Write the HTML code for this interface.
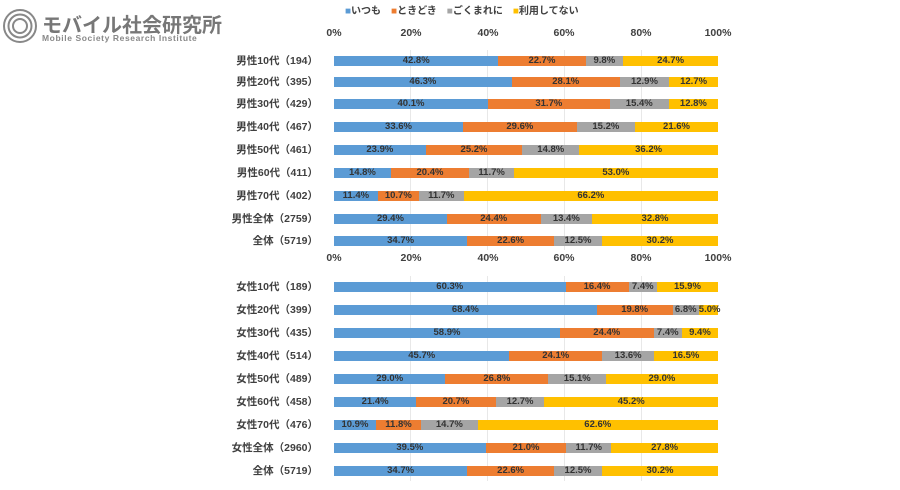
<!DOCTYPE html><html><head><meta charset="utf-8"><style>
body{margin:0;width:900px;height:490px;background:#fff;position:relative;font-family:"Liberation Sans","Noto Sans CJK JP",sans-serif;color:#404040;overflow:hidden}
.a{position:absolute}
.bar{position:absolute;left:334px;width:384px;height:10px;display:flex}
.bar div{height:10px;font-size:9.5px;line-height:10px;text-align:center;white-space:nowrap;color:#333;font-weight:bold}
.b{background:#5b9bd5}.o{background:#ed7d31}.g{background:#a5a5a5}.y{background:#ffc000}
.lab{position:absolute;right:582px;font-size:10.5px;line-height:12px;font-weight:bold;color:#404040;white-space:nowrap}
.tk{position:absolute;font-size:10.5px;font-weight:bold;width:40px;margin-left:-20px;text-align:center}
.grid{position:absolute;width:1px;background:#e8e8e8}
</style></head><body>
<svg class="a" style="left:2px;top:8px" width="36" height="36"><g fill="none" stroke="#888" stroke-width="2"><circle cx="18" cy="18" r="16"/><circle cx="18" cy="18" r="11.5"/><circle cx="18" cy="18" r="7"/></g></svg>
<div class="a" style="left:42px;top:9px;font-size:20px;font-weight:bold;color:#777">モバイル社会研究所</div>
<div class="a" style="left:42px;top:33px;font-size:8.5px;font-weight:bold;color:#888;letter-spacing:0.6px">Mobile Society Research Institute</div>
<div class="a" style="left:345px;top:2px;font-size:10px;font-weight:bold;white-space:nowrap"><span style="color:#5b9bd5">■</span>いつも　<span style="color:#ed7d31">■</span>ときどき　<span style="color:#a5a5a5">■</span>ごくまれに　<span style="color:#ffc000">■</span>利用してない</div>

<div class="grid" style="left:410px;top:50px;height:200px"></div><div class="grid" style="left:487px;top:50px;height:200px"></div><div class="grid" style="left:564px;top:50px;height:200px"></div><div class="grid" style="left:641px;top:50px;height:200px"></div>
<div class="grid" style="left:410px;top:276px;height:205px"></div><div class="grid" style="left:487px;top:276px;height:205px"></div><div class="grid" style="left:564px;top:276px;height:205px"></div><div class="grid" style="left:641px;top:276px;height:205px"></div>

<div class="tk" style="left:334px;top:27px">0%</div><div class="tk" style="left:411px;top:27px">20%</div><div class="tk" style="left:488px;top:27px">40%</div><div class="tk" style="left:564px;top:27px">60%</div><div class="tk" style="left:641px;top:27px">80%</div><div class="tk" style="left:718px;top:27px">100%</div>
<div class="tk" style="left:334px;top:252px">0%</div><div class="tk" style="left:411px;top:252px">20%</div><div class="tk" style="left:488px;top:252px">40%</div><div class="tk" style="left:564px;top:252px">60%</div><div class="tk" style="left:641px;top:252px">80%</div><div class="tk" style="left:718px;top:252px">100%</div>

<div class="lab" style="top:55px">男性10代（194）</div><div class="bar" style="top:56px"><div class="b" style="width:42.8%">42.8%</div><div class="o" style="width:22.7%">22.7%</div><div class="g" style="width:9.8%">9.8%</div><div class="y" style="width:24.7%">24.7%</div></div>
<div class="lab" style="top:76px">男性20代（395）</div><div class="bar" style="top:77px"><div class="b" style="width:46.3%">46.3%</div><div class="o" style="width:28.1%">28.1%</div><div class="g" style="width:12.9%">12.9%</div><div class="y" style="width:12.7%">12.7%</div></div>
<div class="lab" style="top:98px">男性30代（429）</div><div class="bar" style="top:99px"><div class="b" style="width:40.1%">40.1%</div><div class="o" style="width:31.7%">31.7%</div><div class="g" style="width:15.4%">15.4%</div><div class="y" style="width:12.8%">12.8%</div></div>
<div class="lab" style="top:121px">男性40代（467）</div><div class="bar" style="top:122px"><div class="b" style="width:33.6%">33.6%</div><div class="o" style="width:29.6%">29.6%</div><div class="g" style="width:15.2%">15.2%</div><div class="y" style="width:21.6%">21.6%</div></div>
<div class="lab" style="top:144px">男性50代（461）</div><div class="bar" style="top:145px"><div class="b" style="width:23.9%">23.9%</div><div class="o" style="width:25.2%">25.2%</div><div class="g" style="width:14.8%">14.8%</div><div class="y" style="width:36.2%">36.2%</div></div>
<div class="lab" style="top:167px">男性60代（411）</div><div class="bar" style="top:168px"><div class="b" style="width:14.8%">14.8%</div><div class="o" style="width:20.4%">20.4%</div><div class="g" style="width:11.7%">11.7%</div><div class="y" style="width:53.0%">53.0%</div></div>
<div class="lab" style="top:190px">男性70代（402）</div><div class="bar" style="top:191px"><div class="b" style="width:11.4%">11.4%</div><div class="o" style="width:10.7%">10.7%</div><div class="g" style="width:11.7%">11.7%</div><div class="y" style="width:66.2%">66.2%</div></div>
<div class="lab" style="top:213px">男性全体（2759）</div><div class="bar" style="top:214px"><div class="b" style="width:29.4%">29.4%</div><div class="o" style="width:24.4%">24.4%</div><div class="g" style="width:13.4%">13.4%</div><div class="y" style="width:32.8%">32.8%</div></div>
<div class="lab" style="top:235px">全体（5719）</div><div class="bar" style="top:236px"><div class="b" style="width:34.7%">34.7%</div><div class="o" style="width:22.6%">22.6%</div><div class="g" style="width:12.5%">12.5%</div><div class="y" style="width:30.2%">30.2%</div></div>

<div class="lab" style="top:281px">女性10代（189）</div><div class="bar" style="top:282px"><div class="b" style="width:60.3%">60.3%</div><div class="o" style="width:16.4%">16.4%</div><div class="g" style="width:7.4%">7.4%</div><div class="y" style="width:15.9%">15.9%</div></div>
<div class="lab" style="top:304px">女性20代（399）</div><div class="bar" style="top:305px"><div class="b" style="width:68.4%">68.4%</div><div class="o" style="width:19.8%">19.8%</div><div class="g" style="width:6.8%">6.8%</div><div class="y" style="width:5.0%">5.0%</div></div>
<div class="lab" style="top:327px">女性30代（435）</div><div class="bar" style="top:328px"><div class="b" style="width:58.9%">58.9%</div><div class="o" style="width:24.4%">24.4%</div><div class="g" style="width:7.4%">7.4%</div><div class="y" style="width:9.4%">9.4%</div></div>
<div class="lab" style="top:350px">女性40代（514）</div><div class="bar" style="top:351px"><div class="b" style="width:45.7%">45.7%</div><div class="o" style="width:24.1%">24.1%</div><div class="g" style="width:13.6%">13.6%</div><div class="y" style="width:16.5%">16.5%</div></div>
<div class="lab" style="top:373px">女性50代（489）</div><div class="bar" style="top:374px"><div class="b" style="width:29.0%">29.0%</div><div class="o" style="width:26.8%">26.8%</div><div class="g" style="width:15.1%">15.1%</div><div class="y" style="width:29.0%">29.0%</div></div>
<div class="lab" style="top:396px">女性60代（458）</div><div class="bar" style="top:397px"><div class="b" style="width:21.4%">21.4%</div><div class="o" style="width:20.7%">20.7%</div><div class="g" style="width:12.7%">12.7%</div><div class="y" style="width:45.2%">45.2%</div></div>
<div class="lab" style="top:419px">女性70代（476）</div><div class="bar" style="top:420px"><div class="b" style="width:10.9%">10.9%</div><div class="o" style="width:11.8%">11.8%</div><div class="g" style="width:14.7%">14.7%</div><div class="y" style="width:62.6%">62.6%</div></div>
<div class="lab" style="top:442px">女性全体（2960）</div><div class="bar" style="top:443px"><div class="b" style="width:39.5%">39.5%</div><div class="o" style="width:21.0%">21.0%</div><div class="g" style="width:11.7%">11.7%</div><div class="y" style="width:27.8%">27.8%</div></div>
<div class="lab" style="top:465px">全体（5719）</div><div class="bar" style="top:466px"><div class="b" style="width:34.7%">34.7%</div><div class="o" style="width:22.6%">22.6%</div><div class="g" style="width:12.5%">12.5%</div><div class="y" style="width:30.2%">30.2%</div></div>
</body></html>
